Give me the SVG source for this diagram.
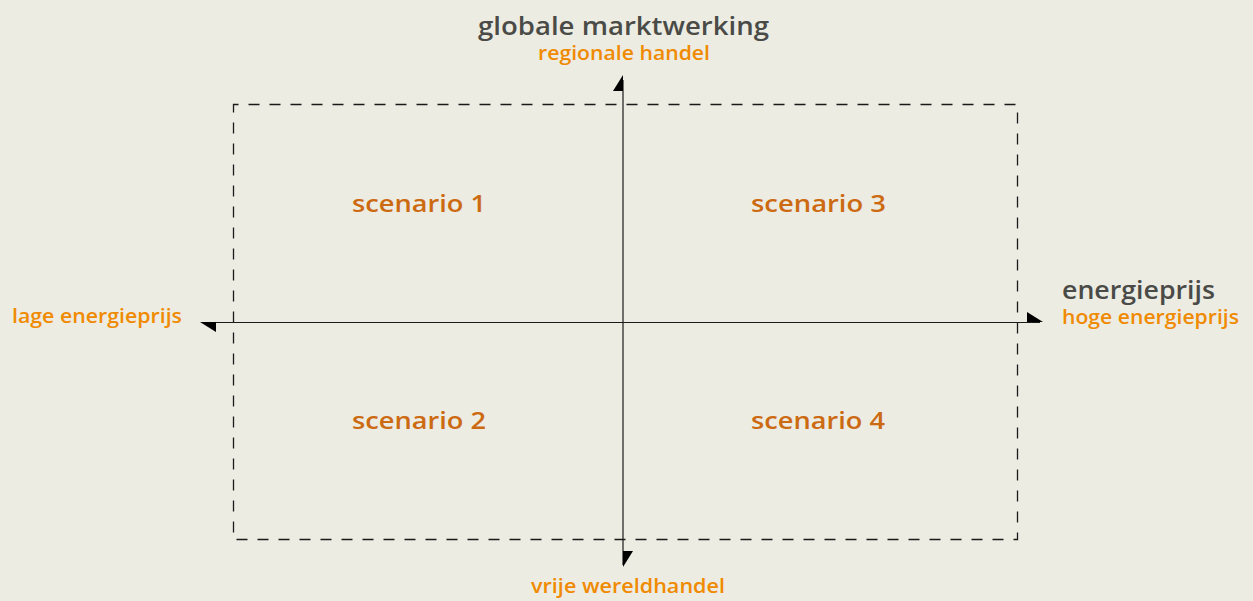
<svg xmlns="http://www.w3.org/2000/svg" width="1253" height="601" viewBox="0 0 1253 601">
<style>
text{font-family:"Open Sans","Noto Sans","Liberation Sans",sans-serif;font-weight:600}
.title{fill:#4a4a47;font-size:26px}
.sub{fill:#f08a00;font-size:19px}
.scen{fill:#cc6a12;font-size:24px}
.axis{stroke:#1a1a1a;stroke-width:1.2;fill:none}
.head{fill:#000}
</style>
<rect width="1253" height="601" fill="#ecece3"/>
<g id="frame">
<rect x="233.5" y="104.5" width="784" height="435" fill="none" stroke="#1a1a1a" stroke-width="1.3" stroke-dasharray="11 10" stroke-dashoffset="6"/>
</g>
<g id="connectors">
<line class="axis" x1="623" y1="80" x2="623" y2="565"/>
<line class="axis" x1="205" y1="322.5" x2="1040" y2="322.5"/>
<polygon class="head" points="623,75 613,91 623,91"/>
<polygon class="head" points="623,567 623,551 633,551"/>
<polygon class="head" points="200,322 216,322 216,332"/>
<polygon class="head" points="1043,322 1027,312 1027,322"/>
</g>
<g id="top-label">
<text class="title" x="478" y="35" textLength="291" lengthAdjust="spacingAndGlyphs">globale marktwerking</text>
<text class="sub" x="538" y="60" textLength="172" lengthAdjust="spacingAndGlyphs">regionale handel</text>
</g>
<g id="bottom-label">
<text class="sub" x="531" y="593" textLength="194" lengthAdjust="spacingAndGlyphs">vrije wereldhandel</text>
</g>
<g id="left-label">
<text class="sub" x="12" y="323" textLength="170" lengthAdjust="spacingAndGlyphs">lage energieprijs</text>
</g>
<g id="right-label">
<text class="title" x="1062" y="299" style="font-size:25px" textLength="153" lengthAdjust="spacingAndGlyphs">energieprijs</text>
<text class="sub" x="1062" y="324" textLength="177" lengthAdjust="spacingAndGlyphs">hoge energieprijs</text>
</g>
<g id="scenario1"><text class="scen" x="352" y="212" textLength="134" lengthAdjust="spacingAndGlyphs">scenario 1</text></g>
<g id="scenario2"><text class="scen" x="352" y="429" textLength="134" lengthAdjust="spacingAndGlyphs">scenario 2</text></g>
<g id="scenario3"><text class="scen" x="751" y="212" textLength="135" lengthAdjust="spacingAndGlyphs">scenario 3</text></g>
<g id="scenario4"><text class="scen" x="751" y="429" textLength="134" lengthAdjust="spacingAndGlyphs">scenario 4</text></g>
</svg>
